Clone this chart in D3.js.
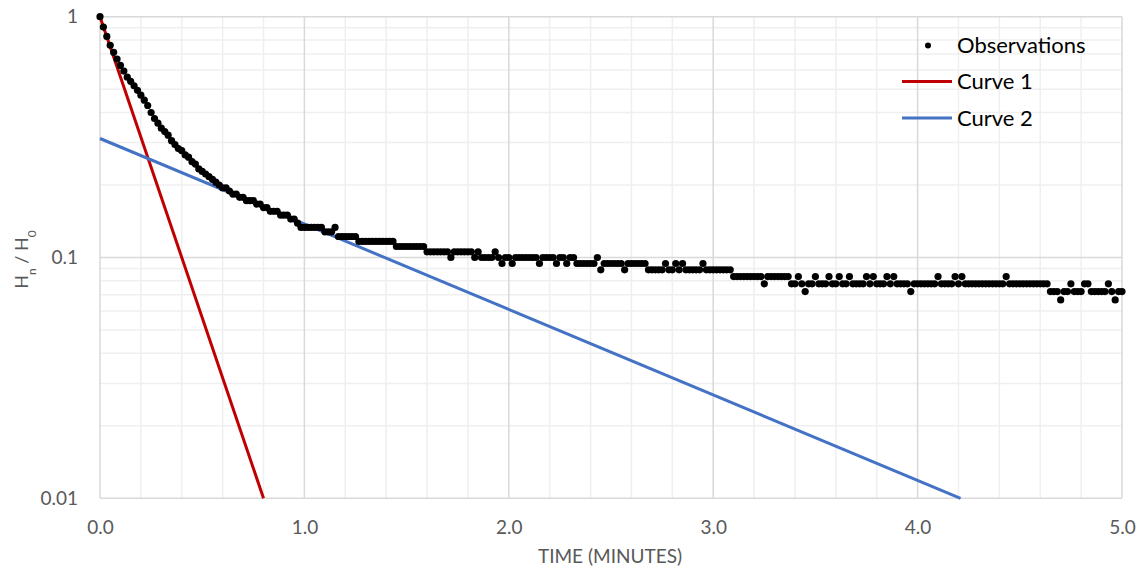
<!DOCTYPE html>
<html><head><meta charset="utf-8">
<script src="https://cdn.jsdelivr.net/npm/d3@7"></script>
<style>
body{margin:0;background:#fff}
text{font-family:Lato,"Open Sans",sans-serif}
</style>
</head><body>
<svg id="chart" width="1143" height="571"></svg>
<script>
// ---- data ----
const H0 = 180;                // reference head (level units)
const sampleStepMin = 1 / 60;  // one reading per second
const obsLevels = [
180,163,149,137,128,120,113,107,101,97,
93,89,85,81,77,72,68,65,62,60,
58,55,53,51,50,48,47,45,44,42,
41,40,39,38,37,36,35,35,34,33,
33,32,32,31,31,31,30,30,29,29,
28,28,28,27,27,27,26,26,25,24,
24,24,24,24,24,24,23,23,23,24,
22,22,22,22,22,22,21,21,21,21,
21,21,21,21,21,21,21,20,20,20,
20,20,20,20,20,20,19,19,19,19,
19,19,19,18,19,19,19,19,19,19,
18,19,18,18,18,18,19,18,17,18,
18,17,18,18,18,18,18,18,18,17,
18,18,18,18,17,18,18,17,18,18,
17,17,17,17,17,17,18,16,17,17,
17,17,17,17,16,17,17,17,17,17,
17,16,16,16,16,16,17,16,16,17,
16,17,16,16,16,16,16,17,16,16,
16,16,16,16,16,16,15,15,15,15,
15,15,15,15,15,14,15,15,15,15,
15,15,15,14,14,15,14,13,14,14,
15,14,14,14,15,14,14,15,14,14,
15,14,14,14,14,15,14,15,14,14,
14,15,14,15,14,14,14,14,13,14,
14,14,14,14,14,14,15,14,14,14,
14,15,14,15,14,14,14,14,14,14,
14,14,14,14,14,14,15,14,14,14,
14,14,14,14,14,14,14,14,14,13,
13,13,12,13,13,14,13,13,13,14,
14,13,13,13,13,13,14,13,12,13,
13
];
const curve1T = [0, 0.8];
const curve1V = [1, 0.01];
const curve2T = [0, 4.21];
const curve2V = [0.312, 0.01];
const xTickValues = [0, 1, 2, 3, 4, 5];
const yTickValues = [0.01, 0.1, 1];
const seriesNames = ["Observations", "Curve 1", "Curve 2"];
const seriesColors = ["#000000", "#C00000", "#4472C4"];
const xTitle = "TIME (MINUTES)";

// ---- chart ----
const svg = d3.select("#chart");
const L = 100, R = 1122, T = 16.7, B = 498.3;
const x = d3.scaleLinear().domain([0, 5]).range([L, R]);
const y = d3.scaleLog().domain([0.01, 1]).range([B, T]);

const obs = obsLevels.map((n, i) => ({t: i * sampleStepMin, v: n / H0}));
const c1 = curve1T.map((t, i) => ({t, v: curve1V[i]}));
const c2 = curve2T.map((t, i) => ({t, v: curve2V[i]}));

const grid = svg.append("g");
// minor vertical
const minorX = d3.range(0, 5.0001, 0.2).filter(d => Math.abs(d - Math.round(d)) > 1e-6);
grid.selectAll(".mvx").data(minorX).join("line")
  .attr("x1", d => x(d)).attr("x2", d => x(d)).attr("y1", T).attr("y2", B)
  .attr("stroke", "#efefef").attr("stroke-width", 1.5);
// minor horizontal
const minorY = y.ticks().filter(d => !yTickValues.some(v => Math.abs(v - d) < 1e-9));
grid.selectAll(".mhy").data(minorY).join("line")
  .attr("x1", L).attr("x2", R).attr("y1", d => y(d)).attr("y2", d => y(d))
  .attr("stroke", "#efefef").attr("stroke-width", 1.5);
// major vertical
grid.selectAll(".Mvx").data(xTickValues).join("line")
  .attr("x1", d => x(d)).attr("x2", d => x(d)).attr("y1", T).attr("y2", B)
  .attr("stroke", "#d9d9d9").attr("stroke-width", 1.5);
// major horizontal
grid.selectAll(".Mhy").data(yTickValues).join("line")
  .attr("x1", L).attr("x2", R).attr("y1", d => y(d)).attr("y2", d => y(d))
  .attr("stroke", "#d9d9d9").attr("stroke-width", 1.5);

// axes (labels)
const xAxis = svg.append("g").attr("transform", `translate(0,${B})`)
  .call(d3.axisBottom(x).tickValues(xTickValues).tickSize(0).tickPadding(22).tickFormat(d3.format(".1f")));
xAxis.select(".domain").remove();
xAxis.selectAll("text").attr("fill", "#595959").style("font-size", "19px").attr("font-family", null);

const yAxis = svg.append("g").attr("transform", `translate(${L},0)`)
  .call(d3.axisLeft(y).tickValues(yTickValues).tickSize(0).tickPadding(22).tickFormat(d => String(d)));
yAxis.select(".domain").remove();
yAxis.selectAll("text").attr("fill", "#595959").style("font-size", "19px").attr("font-family", null);

// curves
const line = d3.line().x(d => x(d.t)).y(d => y(d.v));
svg.append("path").datum(c1).attr("d", line).attr("fill", "none")
  .attr("stroke", seriesColors[1]).attr("stroke-width", 3);
svg.append("path").datum(c2).attr("d", line).attr("fill", "none")
  .attr("stroke", seriesColors[2]).attr("stroke-width", 3);

// observations
svg.append("g").selectAll("circle").data(obs).join("circle")
  .attr("cx", d => x(d.t)).attr("cy", d => y(d.v)).attr("r", 3.6)
  .attr("fill", seriesColors[0]);

// axis titles
svg.append("text").attr("x", 610).attr("y", 563).attr("text-anchor", "middle")
  .attr("fill", "#595959").style("font-size", "19px").text(xTitle);

const yt = svg.append("text").attr("transform", `translate(28,${(T + B) / 2 + 2}) rotate(-90)`)
  .attr("text-anchor", "middle").attr("fill", "#595959").style("font-size", "18px");
yt.append("tspan").text("H");
yt.append("tspan").text("n").attr("baseline-shift", "sub").style("font-size", "12px");
yt.append("tspan").text(" / H");
yt.append("tspan").text("0").attr("baseline-shift", "sub").style("font-size", "12px");

// legend
const lg = svg.append("g");
const legY = [45.5, 81.5, 118];
lg.append("circle").attr("cx", 928).attr("cy", legY[0]).attr("r", 3).attr("fill", seriesColors[0]);
[1, 2].forEach(k => {
  lg.append("line").attr("x1", 902).attr("x2", 952).attr("y1", legY[k]).attr("y2", legY[k])
    .attr("stroke", seriesColors[k]).attr("stroke-width", 3);
});
seriesNames.forEach((s, k) => {
  lg.append("text").attr("x", 957).attr("y", legY[k]).attr("dy", "0.35em")
    .style("font-size", "22px").attr("fill", "#000").text(s);
});
</script>
</body></html>
